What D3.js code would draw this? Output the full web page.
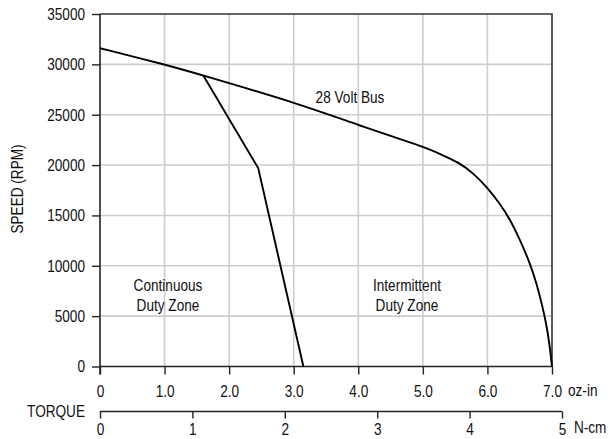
<!DOCTYPE html>
<html>
<head>
<meta charset="utf-8">
<script src="https://cdn.jsdelivr.net/npm/d3@7"></script>
<style>
  body { margin: 0; background: #fff; }
  svg { display: block; }
  text { font-family: "Liberation Sans", Arial, sans-serif; font-size: 17px; fill: #111; }
</style>
</head>
<body>
<svg id="chart" width="610" height="439"></svg>
<script>
// torque (oz-in) vs speed (rpm)
const busTorque = [0, 1.0, 1.6, 3.1, 4.0, 5.0, 5.27, 5.58, 5.78, 5.99, 6.19, 6.35, 6.50, 6.66, 6.76, 6.84, 6.91, 6.96, 7.0];
const busSpeed = [31600, 30000, 28900, 26050, 23960, 21840, 21100, 20180, 19180, 17850, 16200, 14620, 12630, 10250, 8260, 6280, 4290, 2300, 0];

const contTorque = [1.6, 2.45, 3.15];
const contSpeed = [28900, 19700, 0];

const ozTicks = [0, 1, 2, 3, 4, 5, 6, 7];
const ozLabels = ['0', '1.0', '2.0', '3.0', '4.0', '5.0', '6.0', '7.0'];
const ncmTicks = [0, 1, 2, 3, 4, 5];
const speedTicks = [0, 5000, 10000, 15000, 20000, 25000, 30000, 35000];

const svg = d3.select('#chart');
const plotLeft = 100, plotRight = 552, plotTop = 14, plotBottom = 366.5;
const squeeze = 0.8; // source font is a narrow sans

const x = d3.scaleLinear().domain([0, 7]).range([plotLeft, plotRight]);
const y = d3.scaleLinear().domain([0, 35000]).range([plotBottom, plotTop]);
const xN = d3.scaleLinear().domain([0, 5]).range([plotLeft, 562]);

// grid
const grid = svg.append('g').attr('stroke', '#cdcdcd').attr('stroke-width', 1.6);
grid.selectAll('.gx').data(ozTicks.slice(1, -1)).enter().append('line')
  .attr('x1', (d) => x(d)).attr('x2', (d) => x(d))
  .attr('y1', plotTop).attr('y2', plotBottom);
grid.selectAll('.gy').data(speedTicks.slice(1, -1)).enter().append('line')
  .attr('x1', plotLeft).attr('x2', plotRight)
  .attr('y1', (d) => y(d)).attr('y2', (d) => y(d));

// frame: top + right
svg.append('path')
  .attr('d', `M${plotLeft},${plotTop}H${plotRight}V${plotBottom}`)
  .attr('fill', 'none').attr('stroke', '#333').attr('stroke-width', 1.6);

// y axis
const yAxis = svg.append('g').attr('transform', `translate(${plotLeft},0)`)
  .call(d3.axisLeft(y).tickValues(speedTicks).tickFormat(d3.format('d')).tickSize(8).tickPadding(7));
yAxis.select('.domain').remove();
yAxis.append('line').attr('x1', 0).attr('x2', 0).attr('y1', plotTop).attr('y2', plotBottom + 8)
  .attr('stroke', '#222').attr('stroke-width', 1.6);
yAxis.selectAll('.tick line').attr('stroke', '#222').attr('stroke-width', 1.4);

// oz-in axis
const xAxis = svg.append('g').attr('transform', `translate(0,${plotBottom})`)
  .call(d3.axisBottom(x).tickValues(ozTicks).tickFormat((d, i) => ozLabels[i]).tickSize(8).tickPadding(10));
xAxis.select('.domain').attr('stroke', '#222').attr('stroke-width', 1.6).attr('d', `M${plotLeft},0H${plotRight}`);
xAxis.selectAll('.tick line').attr('stroke', '#222').attr('stroke-width', 1.4);
svg.append('text').attr('x', 568).attr('y', 390).attr('dy', '0.35em').text('oz-in');

// N-cm axis
const nAxis = svg.append('g').attr('transform', 'translate(0,411.5)')
  .call(d3.axisBottom(xN).tickValues(ncmTicks).tickFormat(d3.format('d')).tickSize(7).tickPadding(4));
nAxis.select('.domain').attr('stroke', '#222').attr('stroke-width', 1.6).attr('d', `M${plotLeft},0H${xN(5)}`);
nAxis.selectAll('.tick line').attr('stroke', '#222').attr('stroke-width', 1.4);
// near the right edge: squeeze with a transform so its box is the drawn one
svg.append('text').attr('class', 'scaled')
  .attr('transform', `translate(574,427) scale(${squeeze},1)`).attr('dy', '0.35em').text('N-cm');
svg.append('text').attr('x', 85).attr('y', 411.5).attr('dy', '0.35em').attr('text-anchor', 'end').text('TORQUE');

// axis title
svg.append('text').attr('transform', 'translate(17,189) rotate(-90)')
  .attr('text-anchor', 'middle').attr('dy', '0.35em').text('SPEED (RPM)');

// curves
const line = d3.line().x((d) => x(d[0])).y((d) => y(d[1]));
svg.append('path')
  .datum(d3.zip(busTorque, busSpeed))
  .attr('d', line.curve(d3.curveBasis))
  .attr('fill', 'none').attr('stroke', '#000').attr('stroke-width', 1.9);
svg.append('path')
  .datum(d3.zip(contTorque, contSpeed))
  .attr('d', line.curve(d3.curveLinear))
  .attr('fill', 'none').attr('stroke', '#000').attr('stroke-width', 1.9);

// annotations
svg.append('text').attr('x', 350).attr('y', 97).attr('dy', '0.35em').attr('text-anchor', 'middle').text('28 Volt Bus');
const zone = (cx, l1) => {
  const t = svg.append('text').attr('text-anchor', 'middle');
  t.append('tspan').attr('x', cx).attr('y', 285).attr('dy', '0.35em').text(l1);
  t.append('tspan').attr('x', cx).attr('y', 305).attr('dy', '0.35em').text('Duty Zone');
};
zone(168, 'Continuous');
zone(407, 'Intermittent');

// all text: same size, squeezed horizontally to mimic the narrow face
svg.selectAll('text').style('font-size', '17px').attr('fill', '#111').attr('font-family', null);
svg.selectAll('text:not(.scaled)').each(function () {
  const spans = this.querySelectorAll('tspan');
  const els = spans.length ? Array.from(spans) : [this];
  for (const el of els) {
    const w = el.getComputedTextLength();
    el.setAttribute('textLength', (w * squeeze).toFixed(1));
    el.setAttribute('lengthAdjust', 'spacingAndGlyphs');
  }
});
</script>
</body>
</html>
